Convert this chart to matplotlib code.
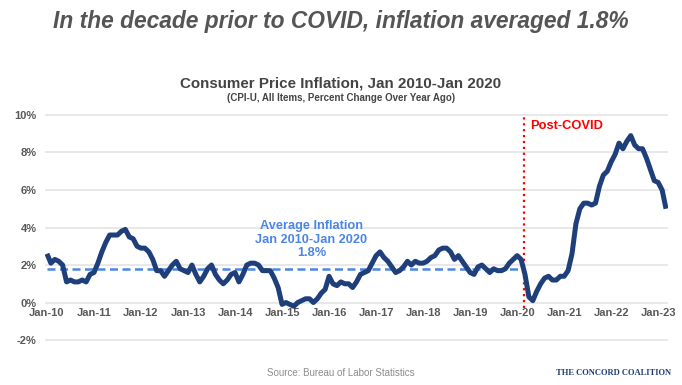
import matplotlib
matplotlib.use("Agg")
import matplotlib.pyplot as plt
import numpy as np

plt.rcParams["font.family"] = ["Liberation Sans", "DejaVu Sans"]

# CPI-U, all items, % change over year ago, Jan 2010 .. Mar 2023 (monthly)
cpi_yoy = [
    2.6, 2.1, 2.3, 2.2, 2.0, 1.1, 1.2, 1.1, 1.1, 1.2, 1.1, 1.5,   # 2010
    1.6, 2.1, 2.7, 3.2, 3.6, 3.6, 3.6, 3.8, 3.9, 3.5, 3.4, 3.0,   # 2011
    2.9, 2.9, 2.7, 2.3, 1.7, 1.7, 1.4, 1.7, 2.0, 2.2, 1.8, 1.7,   # 2012
    1.6, 2.0, 1.5, 1.1, 1.4, 1.8, 2.0, 1.5, 1.2, 1.0, 1.2, 1.5,   # 2013
    1.6, 1.1, 1.5, 2.0, 2.1, 2.1, 2.0, 1.7, 1.7, 1.7, 1.3, 0.8,   # 2014
    -0.1, 0.0, -0.1, -0.2, 0.0, 0.1, 0.2, 0.2, 0.0, 0.2, 0.5, 0.7,  # 2015
    1.4, 1.0, 0.9, 1.1, 1.0, 1.0, 0.8, 1.1, 1.5, 1.6, 1.7, 2.1,   # 2016
    2.5, 2.7, 2.4, 2.2, 1.9, 1.6, 1.7, 1.9, 2.2, 2.0, 2.2, 2.1,   # 2017
    2.1, 2.2, 2.4, 2.5, 2.8, 2.9, 2.9, 2.7, 2.3, 2.5, 2.2, 1.9,   # 2018
    1.6, 1.5, 1.9, 2.0, 1.8, 1.6, 1.8, 1.7, 1.7, 1.8, 2.1, 2.3,   # 2019
    2.5, 2.3, 1.5, 0.3, 0.1, 0.6, 1.0, 1.3, 1.4, 1.2, 1.2, 1.4,   # 2020
    1.4, 1.7, 2.6, 4.2, 5.0, 5.3, 5.3, 5.2, 5.3, 6.2, 6.8, 7.0,   # 2021
    7.5, 7.9, 8.5, 8.2, 8.6, 8.9, 8.4, 8.2, 8.2, 7.7, 7.1, 6.5,   # 2022
    6.4, 6.0, 5.0,                                                # 2023
]
tick_labels = ["Jan-10", "Jan-11", "Jan-12", "Jan-13", "Jan-14", "Jan-15",
               "Jan-16", "Jan-17", "Jan-18", "Jan-19", "Jan-20", "Jan-21",
               "Jan-22", "Jan-23"]
y_ticks = [-2, 0, 2, 4, 6, 8, 10]
avg_inflation = 1.8
avg_end_month = 121      # Jan 2010 through Jan 2020
covid_month = 121.8      # start of the post-COVID period

months = np.arange(len(cpi_yoy))

fig = plt.figure(figsize=(6.82, 3.85), dpi=100)
ax = fig.add_axes([45 / 682, 0.1119, 623 / 682, 0.5943])

ax.set_xlim(-0.5, len(cpi_yoy) - 0.5)
ax.set_ylim(-2.1, 10.1)
ax.set_yticks(y_ticks)
ax.set_yticklabels([f"{v}%" for v in y_ticks])
ax.set_xticks(np.arange(len(tick_labels)) * 12)
ax.set_xticklabels(tick_labels)
ax.yaxis.grid(True, color="#e4e4e4", lw=1.2)
ax.set_axisbelow(True)
for s in ax.spines.values():
    s.set_visible(False)
ax.spines["bottom"].set_position(("data", 0))
ax.tick_params(axis="both", length=0, colors="#595959", labelsize=8)
ax.tick_params(axis="x", pad=4)
ax.tick_params(axis="y", pad=6)
for lab in ax.get_xticklabels() + ax.get_yticklabels():
    lab.set_fontweight("bold")

ax.plot([0, avg_end_month], [avg_inflation, avg_inflation], color="#4a86e8",
        lw=1.8, dashes=(3.2, 1.8), zorder=2)
ax.plot([covid_month, covid_month], [-0.3, 10], color="#ff0000", lw=1.6,
        ls=":", zorder=2)
ax.plot(months, cpi_yoy, color="#1f3f7a", lw=3.6, solid_joinstyle="round",
        solid_capstyle="butt", zorder=3)

ax.text(67.5, 3.35, f"Average Inflation\nJan 2010-Jan 2020\n{avg_inflation}%",
        ha="center", va="center", color="#4a86e8", fontsize=9.2,
        fontweight="bold", linespacing=1.15)
ax.text(123.3, 9.4, "Post-COVID", ha="left", va="center", color="#ff0000",
        fontsize=9.3, fontweight="bold")

fig.text(0.5, 0.943, "In the decade prior to COVID, inflation averaged 1.8%",
         ha="center", va="center", fontsize=16.4, fontweight="bold",
         fontstyle="italic", color="#555555")
fig.text(0.5, 0.7844, "Consumer Price Inflation, Jan 2010-Jan 2020",
         ha="center", va="center", fontsize=10.9, fontweight="bold",
         color="#444444")
fig.text(0.5, 0.7455, "(CPI-U, All Items, Percent Change Over Year Ago)",
         ha="center", va="center", fontsize=7.0, fontweight="bold",
         color="#444444")
fig.text(0.5, 0.031, "Source: Bureau of Labor Statistics", ha="center",
         va="center", fontsize=7, color="#8c8c8c")
fig.text(614 / 682, 0.031, "THE CONCORD COALITION", ha="center", va="center",
         fontsize=6.1, fontweight="bold", color="#1f3b73",
         family=["Liberation Serif", "DejaVu Serif"])

fig.savefig("out.png", dpi=100, facecolor="white")
